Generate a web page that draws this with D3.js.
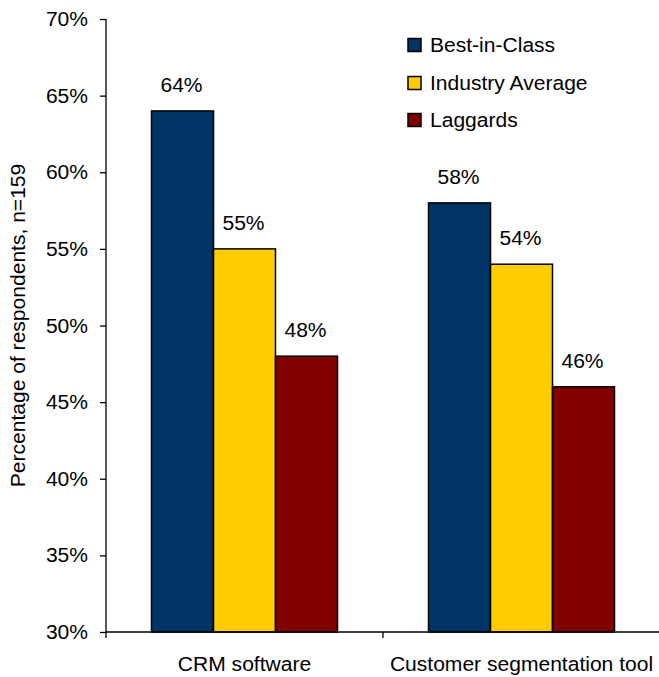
<!DOCTYPE html>
<html>
<head>
<meta charset="utf-8">
<script src="https://cdn.jsdelivr.net/npm/d3@7"></script>
<style>
  html, body { margin: 0; padding: 0; background: #fff; }
  svg text { font-family: "Liberation Sans", Arial, sans-serif; fill: #000; }
</style>
</head>
<body>
<svg id="chart" width="659" height="677"></svg>
<script>
// Survey results: share of respondents using each tool, by maturity class
const categories = ["CRM software", "Customer segmentation tool"];
const seriesNames = ["Best-in-Class", "Industry Average", "Laggards"];
const bestInClass = [0.64, 0.58];
const industryAverage = [0.55, 0.54];
const laggards = [0.48, 0.46];
const yTicks = [0.30, 0.35, 0.40, 0.45, 0.50, 0.55, 0.60, 0.65, 0.70];
const seriesColors = ["#003366", "#FFCC00", "#800000"];

const seriesValues = [bestInClass, industryAverage, laggards];

const svg = d3.select("#chart");
const FONT = 19.5;
const STRETCH = 1.08; // glyph widening along the text direction

const y = d3.scaleLinear().domain([0.30, 0.70]).range([632, 19]);
const x0 = d3.scaleBand().domain(categories).range([106, 660]).padding(0);
const groupWidth = 186;
const x1 = d3.scaleBand().domain(seriesNames).range([0, groupWidth]).padding(0);
const pct = d3.format(".0%");

// Stretched text helper
function label(parent, x, yPos, txt, anchor, rotate) {
  return parent.append("text")
    .attr("transform", `translate(${x},${yPos})` + (rotate ? ` rotate(${rotate})` : "") + ` scale(${STRETCH},1)`)
    .attr("text-anchor", anchor)
    .style("font-size", FONT + "px")
    .text(txt);
}

// Bars
const groups = svg.append("g").selectAll("g")
  .data(categories)
  .join("g")
  .attr("transform", c => `translate(${x0(c) + (x0.bandwidth() - groupWidth) / 2},0)`);

groups.selectAll("rect")
  .data((c, ci) => seriesNames.map((s, si) => ({ s, si, v: seriesValues[si][ci] })))
  .join("rect")
  .attr("x", d => x1(d.s))
  .attr("y", d => y(d.v))
  .attr("width", x1.bandwidth())
  .attr("height", d => y(0.30) - y(d.v))
  .attr("fill", d => seriesColors[d.si])
  .attr("stroke", "#000")
  .attr("stroke-width", 1.5);

// Value labels above bars
groups.each(function (c, ci) {
  const g = d3.select(this);
  seriesNames.forEach((s, si) => {
    const v = seriesValues[si][ci];
    label(g, x1(s) + x1.bandwidth() / 2 - 1, y(v) - 19, pct(v), "middle");
  });
});

// Y axis
const yAxis = svg.append("g").attr("transform", "translate(106,0)")
  .call(d3.axisLeft(y).tickValues(yTicks).tickSize(6).tickFormat(""));
yAxis.select(".domain").attr("d", `M0,${y(0.70)}V${y(0.30)}`).attr("stroke", "#000").attr("stroke-width", 1.3);
yAxis.selectAll(".tick line").attr("stroke", "#000").attr("stroke-width", 1.3);
yTicks.forEach(t => label(svg, 88, y(t) + 7, pct(t), "end"));

// X axis
const xAxis = svg.append("g").attr("transform", `translate(0,${y(0.30)})`);
xAxis.append("line").attr("x1", 106).attr("x2", 660).attr("stroke", "#000").attr("stroke-width", 1.3);
[106, ...categories.map(c => x0(c) + x0.bandwidth())].forEach(px => {
  xAxis.append("line").attr("x1", px).attr("x2", px).attr("y1", 0).attr("y2", 6)
    .attr("stroke", "#000").attr("stroke-width", 1.3);
});
categories.forEach(c => label(svg, x0(c) + x0.bandwidth() / 2, 671, c, "middle"));

// Y axis title
label(svg, 25, (y(0.70) + y(0.30)) / 2, "Percentage of respondents, n=159", "middle", -90);

// Legend
const legendRows = [45, 83, 120];
seriesNames.forEach((s, i) => {
  svg.append("rect")
    .attr("x", 408).attr("y", legendRows[i] - 6.5)
    .attr("width", 13).attr("height", 13)
    .attr("fill", seriesColors[i]).attr("stroke", "#000").attr("stroke-width", 1.5);
  label(svg, 430, legendRows[i] + 6.5, s, "start");
});
</script>
</body>
</html>
